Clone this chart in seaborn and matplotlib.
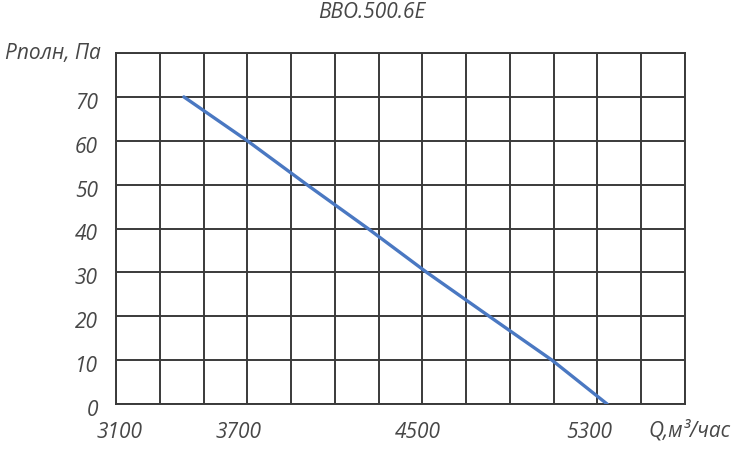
import matplotlib
matplotlib.use("Agg")
import matplotlib.pyplot as plt
import matplotlib.transforms as mtransforms
import seaborn as sns
import pandas as pd

# curve data
flow = [3410, 3700, 3972, 4251, 4520, 4805, 5092, 5344]
pressure = [70, 60, 50, 40, 30, 20, 10, 0]

x_grid = list(range(3100, 5701, 200))
x_labels = {3100: "3100", 3700: "3700", 4500: "4500", 5300: "5300"}
y_grid = list(range(0, 81, 10))
y_labels = ["0", "10", "20", "30", "40", "50", "60", "70", ""]

sns.set_theme(style="white")
plt.rcParams['font.family'] = ['Open Sans', 'DejaVu Sans']
plt.rcParams['font.style'] = 'italic'

text_col = '#474747'
grid_col = '#3a3a3a'

df = pd.DataFrame({'Q': flow, 'P': pressure})

fig = plt.figure(figsize=(7.47, 4.53), dpi=100)
ax = fig.add_axes([116 / 747, 49 / 453, 569 / 747, 351 / 453])

sns.lineplot(data=df, x='Q', y='P', ax=ax, color='#4a78c2', linewidth=2.4, zorder=3)

ax.set_xlim(3100, 5700)
ax.set_ylim(0, 80)
ax.set_xticks(x_grid)
ax.set_xticklabels([x_labels.get(v, "") for v in x_grid])
ax.set_yticks(y_grid)
ax.set_yticklabels(y_labels)
ax.grid(True, color=grid_col, linewidth=1.4)
ax.set_axisbelow(True)
for s in ax.spines.values():
    s.set_color(grid_col)
    s.set_linewidth(1.4)
ax.tick_params(axis='both', length=0, labelsize=15, colors=text_col)
ax.tick_params(axis='x', pad=13)
ax.tick_params(axis='y', pad=13)

# the original labels sit a little off their grid lines
x_shift = {"3100": 4, "3700": -9, "4500": -5, "5300": -8}
for lbl in ax.get_xticklabels():
    lbl.set_fontstyle('italic')
    dx = x_shift.get(lbl.get_text(), 0)
    lbl.set_transform(lbl.get_transform() +
                      mtransforms.ScaledTranslation(dx / 100, 0, fig.dpi_scale_trans))
for lbl in ax.get_yticklabels():
    lbl.set_fontstyle('italic')
    lbl.set_transform(lbl.get_transform() +
                      mtransforms.ScaledTranslation(0, -4 / 100, fig.dpi_scale_trans))

ax.set_xlabel('')
ax.set_ylabel('')

fig.text(372 / 747, 1 - 13 / 453, 'ВВО.500.6Е', ha='center', va='center',
         fontsize=15, color=text_col, style='italic')
fig.text(5 / 747, 1 - 53 / 453, 'Pполн, Па', ha='left', va='center',
         fontsize=15, color=text_col, style='italic')
fig.text(648 / 747, 1 - 431 / 453, 'Q,м³/час', ha='left', va='center',
         fontsize=15, color=text_col, style='italic')

fig.savefig('out.png', dpi=100)
